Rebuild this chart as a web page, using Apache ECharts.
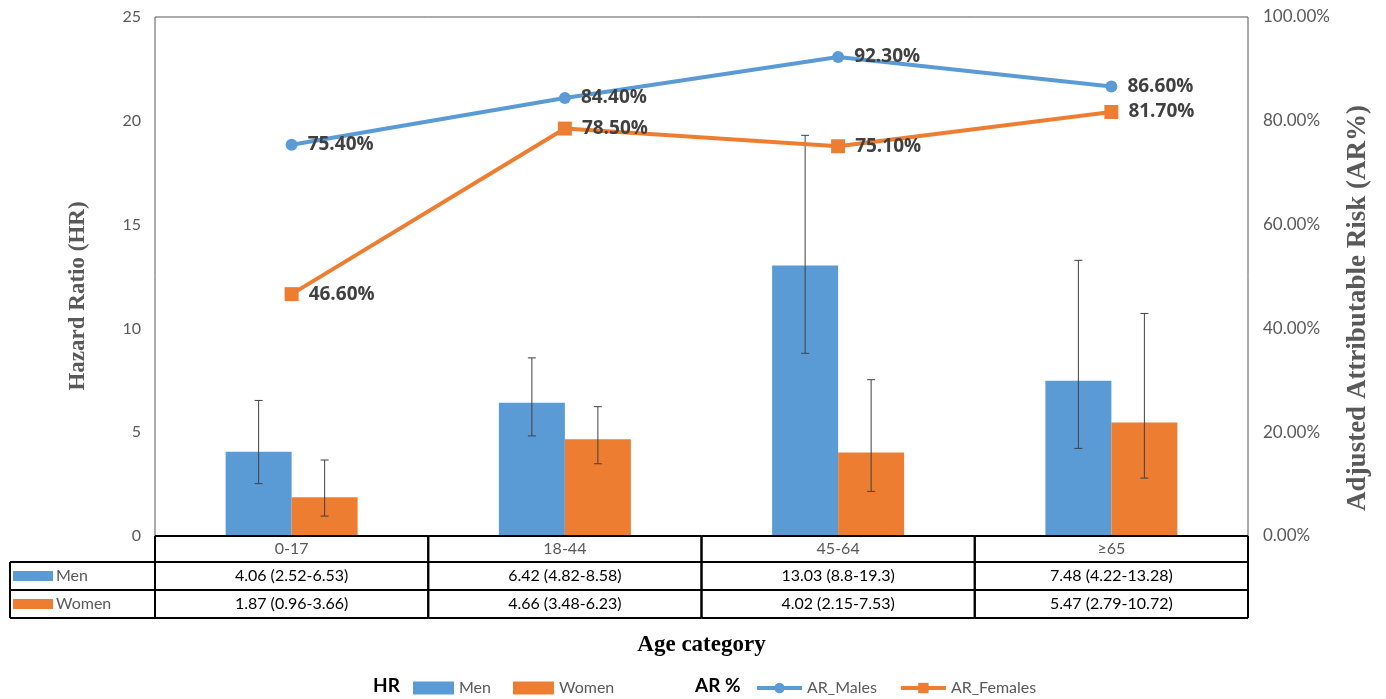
<!DOCTYPE html>
<html>
<head>
<meta charset="utf-8">
<script src="https://cdn.jsdelivr.net/npm/echarts@6/dist/echarts.min.js"></script>
<style>
html,body{margin:0;padding:0;background:#fff;}
#chart{width:1386px;height:699px;}
</style>
</head>
<body>
<div id="chart"></div>
<script>
// ---- data ----
var categories = ['0-17', '18-44', '45-64', '≥65'];
var menHR = [4.06, 6.42, 13.03, 7.48];
var menLow = [2.52, 4.82, 8.8, 4.22];
var menHigh = [6.53, 8.58, 19.3, 13.28];
var womenHR = [1.87, 4.66, 4.02, 5.47];
var womenLow = [0.96, 3.48, 2.15, 2.79];
var womenHigh = [3.66, 6.23, 7.53, 10.72];
var arMales = [75.4, 84.4, 92.3, 86.6];
var arFemales = [46.6, 78.5, 75.1, 81.7];
var menText = ['4.06 (2.52-6.53)', '6.42 (4.82-8.58)', '13.03 (8.8-19.3)', '7.48 (4.22-13.28)'];
var womenText = ['1.87 (0.96-3.66)', '4.66 (3.48-6.23)', '4.02 (2.15-7.53)', '5.47 (2.79-10.72)'];
var hrTicks = [0, 5, 10, 15, 20, 25];
var arTicks = [0, 20, 40, 60, 80, 100];

// ---- styling ----
var BLUE = '#5B9BD5', ORANGE = '#ED7D31';
var SANS = 'Lato, "Open Sans", sans-serif';
var SERIF = '"Liberation Serif", "DejaVu Serif", serif';
var BAR_W = 66;

var chart = echarts.init(document.getElementById('chart'));

function errRender(lows, highs, side) {
  return function (params, api) {
    var i = api.value(0);
    var c = api.coord([i, lows[i]]);
    var h = api.coord([i, highs[i]]);
    var x = c[0] + side * BAR_W / 2;
    var cap = 4;
    var st = { stroke: '#404040', lineWidth: 1 };
    return {
      type: 'group',
      children: [
        { type: 'line', shape: { x1: x, y1: c[1], x2: x, y2: h[1] }, style: st },
        { type: 'line', shape: { x1: x - cap, y1: c[1], x2: x + cap, y2: c[1] }, style: st },
        { type: 'line', shape: { x1: x - cap, y1: h[1], x2: x + cap, y2: h[1] }, style: st }
      ]
    };
  };
}

function tableRender(params, api) {
  var i = api.value(0);
  var p = api.coord([i, 0]);
  var w = api.size([1, 0])[0];
  var x0 = p[0] - w / 2, x1 = p[0] + w / 2;
  var y0 = p[1], y1 = y0 + 26, y2 = y1 + 28, y3 = y2 + 28;
  var ln = { stroke: '#000', lineWidth: 2 };
  var ch = [
    { type: 'line', shape: { x1: x0, y1: y0, x2: x1, y2: y0 }, style: ln },
    { type: 'line', shape: { x1: x0, y1: y1, x2: x1, y2: y1 }, style: ln },
    { type: 'line', shape: { x1: x0, y1: y2, x2: x1, y2: y2 }, style: ln },
    { type: 'line', shape: { x1: x0, y1: y3, x2: x1, y2: y3 }, style: ln },
    { type: 'line', shape: { x1: x1, y1: y0, x2: x1, y2: y3 }, style: ln },
    { type: 'line', shape: { x1: x0, y1: y0, x2: x0, y2: y3 }, style: ln },
    { type: 'text', style: { x: p[0], y: (y0 + y1) / 2, text: categories[i], fill: '#595959', font: '16px ' + SANS, textAlign: 'center', textVerticalAlign: 'middle' } },
    { type: 'text', style: { x: p[0], y: (y1 + y2) / 2, text: menText[i], fill: '#000', font: '16px ' + SANS, textAlign: 'center', textVerticalAlign: 'middle' } },
    { type: 'text', style: { x: p[0], y: (y2 + y3) / 2, text: womenText[i], fill: '#000', font: '16px ' + SANS, textAlign: 'center', textVerticalAlign: 'middle' } }
  ];
  if (i === 0) {
    var lx = x0 - 145;
    ch.push(
      { type: 'line', shape: { x1: lx, y1: y1, x2: x0, y2: y1 }, style: ln },
      { type: 'line', shape: { x1: lx, y1: y2, x2: x0, y2: y2 }, style: ln },
      { type: 'line', shape: { x1: lx, y1: y3, x2: x0, y2: y3 }, style: ln },
      { type: 'line', shape: { x1: lx, y1: y1, x2: lx, y2: y3 }, style: ln },
      { type: 'rect', shape: { x: lx + 3, y: (y1 + y2) / 2 - 5, width: 40, height: 10 }, style: { fill: BLUE } },
      { type: 'rect', shape: { x: lx + 3, y: (y2 + y3) / 2 - 5, width: 40, height: 10 }, style: { fill: ORANGE } },
      { type: 'text', style: { x: lx + 46, y: (y1 + y2) / 2, text: 'Men', fill: '#595959', font: '16px ' + SANS, textVerticalAlign: 'middle' } },
      { type: 'text', style: { x: lx + 46, y: (y2 + y3) / 2, text: 'Women', fill: '#595959', font: '16px ' + SANS, textVerticalAlign: 'middle' } }
    );
  }
  return { type: 'group', children: ch };
}

var idx = categories.map(function (c, i) { return [i]; });
var lineLabel = { show: true, position: 'right', distance: 10, color: '#404040', fontWeight: 'bold', fontSize: 19, fontFamily: '"Open Sans", sans-serif', formatter: function (p) { return p.value.toFixed(2) + '%'; } };

chart.setOption({
  animation: false,
  grid: { left: 155, right: 138, top: 17, bottom: 163, show: true, borderColor: '#555', borderWidth: 1 },
  xAxis: {
    type: 'category', data: categories,
    axisLine: { show: false }, axisTick: { show: false }, axisLabel: { show: false },
    name: 'Age category', nameLocation: 'middle', nameGap: 98,
    nameTextStyle: { fontFamily: SERIF, fontWeight: 'bold', fontSize: 23, color: '#000' }
  },
  yAxis: [
    {
      type: 'value', min: 0, max: 25, interval: 5, position: 'left',
      splitLine: { show: false }, axisLine: { show: false }, axisTick: { show: false },
      axisLabel: { color: '#595959', fontSize: 16, fontFamily: SANS, margin: 14 }
    },
    {
      type: 'value', min: 0, max: 100, interval: 20, position: 'right',
      splitLine: { show: false }, axisLine: { show: false }, axisTick: { show: false },
      axisLabel: { color: '#595959', fontSize: 17, fontFamily: SANS, margin: 15, formatter: function (v) { return v.toFixed(2) + '%'; } }
    }
  ],
  legend: [
    { data: ['Men', 'Women'], left: 408, top: 675, itemWidth: 41, itemHeight: 13, itemGap: 22, icon: 'rect',
      textStyle: { color: '#595959', fontSize: 16, fontFamily: SANS } },
    { data: ['AR_Males', 'AR_Females'], left: 750, top: 675, itemWidth: 45, itemHeight: 13, itemGap: 22,
      lineStyle: { width: 4 },
      textStyle: { color: '#595959', fontSize: 16, fontFamily: SANS } }
  ],
  graphic: [
    { type: 'text', left: 373, top: 676, style: { text: 'HR', font: 'bold 19px ' + SANS, fill: '#000' } },
    { type: 'text', left: 695, top: 676, style: { text: 'AR %', font: 'bold 19px ' + SANS, fill: '#000' } },
    { type: 'text', x: 78, y: 296, rotation: Math.PI / 2,
      style: { text: 'Hazard Ratio (HR)', font: 'bold 23px ' + SERIF, fill: '#595959', textAlign: 'center', textVerticalAlign: 'middle' } },
    { type: 'text', x: 1358, y: 308, rotation: Math.PI / 2,
      style: { text: 'Adjusted Attributable Risk (AR%)', font: 'bold 27px ' + SERIF, fill: '#595959', textAlign: 'center', textVerticalAlign: 'middle' } }
  ],
  series: [
    { name: 'Men', type: 'bar', data: menHR, barWidth: BAR_W, barGap: '0%', itemStyle: { color: BLUE }, z: 2 },
    { name: 'Women', type: 'bar', data: womenHR, barWidth: BAR_W, barGap: '0%', itemStyle: { color: ORANGE }, z: 2 },
    { name: 'menErr', type: 'custom', data: idx, renderItem: errRender(menLow, menHigh, -1), z: 3, silent: true },
    { name: 'womenErr', type: 'custom', data: idx, renderItem: errRender(womenLow, womenHigh, 1), z: 3, silent: true },
    { name: 'AR_Males', type: 'line', yAxisIndex: 1, data: arMales, symbol: 'circle', symbolSize: 12,
      lineStyle: { color: BLUE, width: 4 }, itemStyle: { color: BLUE }, label: lineLabel, z: 5 },
    { name: 'AR_Females', type: 'line', yAxisIndex: 1, data: arFemales, symbol: 'rect', symbolSize: 14,
      lineStyle: { color: ORANGE, width: 4 }, itemStyle: { color: ORANGE }, label: lineLabel, z: 5 },
    { name: 'table', type: 'custom', data: idx, renderItem: tableRender, clip: false, z: 6, silent: true }
  ]
});
</script>
</body>
</html>
